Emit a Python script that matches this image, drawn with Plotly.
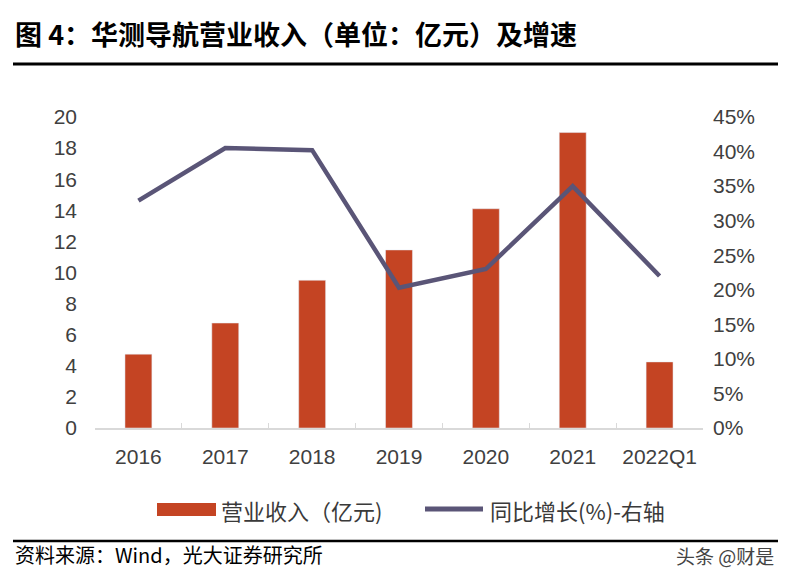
import plotly.graph_objects as go

categories = ["2016", "2017", "2018", "2019", "2020", "2021", "2022Q1"]
revenue = [4.75, 6.75, 9.5, 11.45, 14.1, 19.0, 4.25]
growth = [0.329, 0.405, 0.402, 0.203, 0.230, 0.350, 0.220]
left_ticks = list(range(0, 21, 2))
right_ticks = [i * 0.05 for i in range(10)]
bar_name = "营业收入（亿元)"
line_name = "同比增长(%)-右轴"

BAR_COLOR = "#C44423"
LINE_COLOR = "#5A5577"
TICK_FONT = dict(family="Liberation Sans, Arial, sans-serif", size=21, color="#404040")
CJK = "Noto Sans CJK SC, sans-serif"

# page has an 8px body margin; figure sized so it fits the 791x585 window
PLOT_W = 608.0
PLOT_H = 311.0
def px(x_ref):
    return (x_ref - 95) / PLOT_W
def py(y_ref):
    return (428 - y_ref) / PLOT_H

fig = go.Figure()
fig.add_trace(go.Bar(
    x=categories, y=revenue, name=bar_name,
    marker=dict(color=BAR_COLOR), yaxis="y", width=0.31,
))
fig.add_trace(go.Scatter(
    x=categories, y=growth, name=line_name, mode="lines",
    line=dict(color=LINE_COLOR, width=4.5), yaxis="y2",
))

fig.update_layout(
    width=783, height=577,
    margin=dict(l=87, r=88, t=109, b=157),
    paper_bgcolor="white", plot_bgcolor="white",
    showlegend=False,
    xaxis=dict(
        type="category", showline=True, linecolor="#D9D9D9", linewidth=1.5,
        ticks="inside", tickson="boundaries", ticklen=5, tickcolor="#D9D9D9",
        tickfont=TICK_FONT, showgrid=False, zeroline=False, ticklabelstandoff=9,
    ),
    yaxis=dict(
        range=[0, 20], tickvals=left_ticks, showgrid=False, zeroline=False,
        showline=False, tickfont=TICK_FONT, ticklabelstandoff=17,
    ),
    yaxis2=dict(
        range=[0, 0.45], tickvals=right_ticks, tickformat=".0%", overlaying="y",
        side="right", showgrid=False, zeroline=False, showline=False,
        tickfont=TICK_FONT, ticklabelstandoff=9,
    ),
    font=dict(family=CJK),
)

X0 = px(13)
X1 = px(778)

# title and rules
fig.add_annotation(
    text="<b>图 4：华测导航营业收入（单位：亿元）及增速</b>",
    xref="paper", yref="paper", x=X0, y=py(33), yanchor="middle", xanchor="left",
    showarrow=False, font=dict(family=CJK, size=27, color="#000000"),
)
fig.add_shape(type="line", xref="paper", yref="paper", x0=X0, x1=X1,
              y0=py(64), y1=py(64), line=dict(color="black", width=3))
fig.add_shape(type="line", xref="paper", yref="paper", x0=X0, x1=X1,
              y0=py(541), y1=py(541), line=dict(color="black", width=2.5))

# custom legend
fig.add_shape(type="rect", xref="paper", yref="paper", x0=px(157), x1=px(216),
              y0=py(516), y1=py(503), fillcolor=BAR_COLOR, line=dict(width=0))
fig.add_annotation(
    text=bar_name, xref="paper", yref="paper", x=px(219), y=py(510),
    xanchor="left", yanchor="middle", showarrow=False,
    font=dict(family=CJK, size=22, color="#3A3A3A"),
)
fig.add_shape(type="line", xref="paper", yref="paper", x0=px(425), x1=px(483),
              y0=py(509), y1=py(509), line=dict(color=LINE_COLOR, width=5))
fig.add_annotation(
    text=line_name, xref="paper", yref="paper", x=px(488), y=py(510),
    xanchor="left", yanchor="middle", showarrow=False,
    font=dict(family=CJK, size=22, color="#3A3A3A"),
)

# footer
fig.add_annotation(
    text="资料来源：Wind，光大证券研究所", xref="paper", yref="paper",
    x=X0, y=py(554), xanchor="left", yanchor="middle", showarrow=False,
    font=dict(family=CJK, size=20, color="#000000"),
)
fig.add_annotation(
    text="头条 @财是", xref="paper", yref="paper",
    x=px(776), y=py(555), xanchor="right", yanchor="middle", showarrow=False,
    font=dict(family=CJK, size=19, color="#444444"),
)

fig.write_html("out.html")
